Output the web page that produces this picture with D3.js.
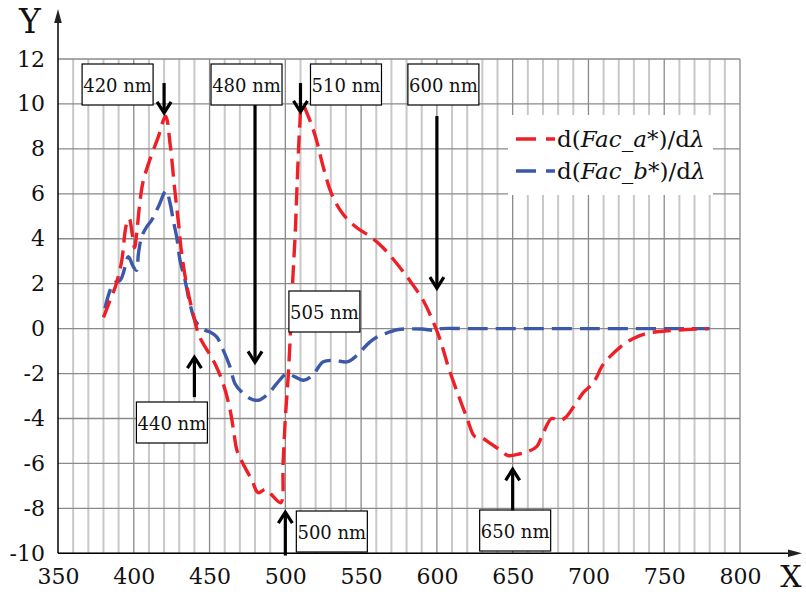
<!DOCTYPE html>
<html>
<head>
<meta charset="utf-8">
<script src="https://cdn.jsdelivr.net/npm/d3@7"></script>
<style>
  html, body { margin: 0; padding: 0; background: #fff; }
  svg { display: block; }
  text { font-family: "DejaVu Serif", "Liberation Serif", serif; }
</style>
</head>
<body>
<svg id="chart" width="806" height="594"></svg>
<script>
// ---- data ----
const xTicks = [350, 400, 450, 500, 550, 600, 650, 700, 750, 800];
const yTicks = [-10, -8, -6, -4, -2, 0, 2, 4, 6, 8, 10, 12];

const aWavelength = [380, 384, 388, 392, 395, 397, 399, 400.5, 402, 404, 406, 410, 416, 421, 424, 427, 429.5, 431.5, 435, 439, 443, 447, 453.5, 459, 463.5, 466, 468, 472, 478, 482, 487, 491, 497, 498.5, 500, 502, 503.5, 505, 506.5, 508, 509.5, 511, 516, 520.5, 525, 530.5, 538, 547, 556, 564.5, 573.5, 582, 591, 600, 604, 607.5, 613, 619.7, 625, 629.5, 635, 641.6, 647, 655, 659, 665.8, 670, 675.7, 681, 685, 691, 696.6, 702, 705.5, 708.7, 714, 721, 729.6, 738, 751.6, 765, 779];
const aValues = [0.5, 1.2, 1.9, 3.0, 4.6, 4.9, 4.2, 3.6, 4.3, 5.6, 6.5, 7.4, 8.5, 9.45, 8.2, 6.2, 4.7, 3.4, 1.9, 0.7, -0.3, -0.8, -1.55, -2.45, -3.6, -4.6, -5.4, -6.0, -6.75, -7.3, -7.15, -7.4, -7.75, -6.0, -4.0, -2.0, 0.0, 2.3, 4.2, 6.8, 9.0, 10.0, 9.3, 8.4, 7.2, 6.0, 5.1, 4.5, 4.1, 3.6, 2.9, 2.15, 1.25, -0.1, -0.9, -1.7, -2.75, -3.95, -4.8, -4.85, -5.1, -5.4, -5.65, -5.57, -5.5, -5.25, -4.67, -4.0, -4.1, -3.95, -3.4, -2.85, -2.5, -2.15, -1.7, -1.26, -0.82, -0.44, -0.22, -0.1, -0.04, 0];

const bWavelength = [381, 386.5, 391, 393, 396.4, 399.7, 401.9, 403, 405.2, 408.5, 411.8, 416.2, 421.3, 424, 426, 428.3, 430.5, 433.8, 437, 440.4, 443.7, 448, 450.3, 454.7, 459, 463.5, 466.8, 471.2, 476.7, 482.2, 488.8, 494.3, 501, 506.4, 512, 518.4, 522, 525, 531.6, 540.5, 544.8, 550.4, 555.9, 562.5, 569, 574.5, 590, 598, 603, 620, 700, 780];
const bValues = [0.9, 2.0, 2.15, 2.45, 3.2, 2.75, 2.6, 3.3, 4.08, 4.53, 4.83, 5.42, 6.13, 5.57, 4.83, 4.08, 3.05, 2.16, 1.12, 0.37, 0.1, -0.1, -0.15, -0.37, -0.96, -1.7, -2.45, -2.82, -3.11, -3.19, -2.89, -2.45, -2.0, -2.15, -2.3, -2.05, -1.7, -1.48, -1.41, -1.48, -1.33, -0.96, -0.59, -0.3, -0.15, -0.04, -0.02, -0.07, 0.0, 0, 0, 0];

const annotationLabels = ["420 nm", "480 nm", "510 nm", "600 nm", "505 nm", "440 nm", "500 nm", "650 nm"];
const annotationNm = [420, 480, 510, 600, 505, 440, 500, 650];

// ---- layout ----
const svg = d3.select("#chart");
const x = d3.scaleLinear().domain([350, 800]).range([58, 740]);
const y = d3.scaleLinear().domain([-10, 12]).range([553.3, 59]);
const RED = "#ee1f26", BLUE = "#3c58a9";

// grid
const g = svg.append("g");
d3.range(360, 801, 10).forEach(v => {
  const major = v % 50 === 0;
  g.append("line")
    .attr("x1", x(v)).attr("x2", x(v)).attr("y1", y(12)).attr("y2", y(-10))
    .attr("stroke", major ? "#8a8a8a" : "#c8c8c8")
    .attr("stroke-width", major ? 1.3 : 2);
});
yTicks.forEach(v => {
  g.append("line")
    .attr("x1", x(350)).attr("x2", x(800)).attr("y1", y(v)).attr("y2", y(v))
    .attr("stroke", "#8a8a8a").attr("stroke-width", 1.3);
});

// axes with arrows
svg.append("line").attr("x1", x(350)).attr("x2", x(350)).attr("y1", y(-10)).attr("y2", 20)
  .attr("stroke", "#000").attr("stroke-width", 1.5);
svg.append("path").attr("d", `M${x(350)},9 L${x(350)-3.8},23 L${x(350)+3.8},23 Z`).attr("fill", "#222");
svg.append("line").attr("x1", x(350)).attr("x2", 792).attr("y1", y(-10)).attr("y2", y(-10))
  .attr("stroke", "#000").attr("stroke-width", 1.5);
svg.append("path").attr("d", `M802,${y(-10)} L788,${y(-10)-3.8} L788,${y(-10)+3.8} Z`).attr("fill", "#222");

// tick labels via axes (plain hyphen for negatives, as in the reference)
const fmt = d => String(d);
const xAxis = d3.axisBottom(x).tickValues(xTicks).tickSize(0).tickPadding(15).tickFormat(fmt);
const xa = svg.append("g").attr("transform", `translate(0,${y(-10)})`).call(xAxis);
xa.select(".domain").remove();
xa.selectAll("text").attr("font-family", "DejaVu Serif").attr("font-size", 22).attr("fill", "#111");

const yAxis = d3.axisLeft(y).tickValues(yTicks).tickSize(0).tickPadding(13).tickFormat(fmt);
const ya = svg.append("g").attr("transform", `translate(${x(350)},0)`).call(yAxis);
ya.select(".domain").remove();
ya.selectAll("text").attr("font-family", "DejaVu Serif").attr("font-size", 22).attr("fill", "#111");

svg.append("text").attr("x", 30).attr("y", 33).attr("text-anchor", "middle")
  .attr("font-size", 33).attr("fill", "#111").text("Y");
svg.append("text").attr("x", 791).attr("y", 587).attr("text-anchor", "middle")
  .attr("font-size", 30).attr("fill", "#111").text("X");

// series
const line = d3.line().x(d => x(d[0])).y(d => y(d[1])).curve(d3.curveCatmullRom.alpha(0.5));
const aData = aWavelength.map((w, i) => [w, aValues[i]]);
const bData = bWavelength.map((w, i) => [w, bValues[i]]);
svg.append("path").datum(bData).attr("d", line).attr("fill", "none")
  .attr("stroke", BLUE).attr("stroke-width", 3.4).attr("stroke-dasharray", "20,8");
svg.append("path").datum(aData).attr("d", line).attr("fill", "none")
  .attr("stroke", RED).attr("stroke-width", 3.4).attr("stroke-dasharray", "18,8");

// annotations: box placement (pixel offsets relative to arrow position) and arrow extents in data units
const annLayout = {
  "420 nm": { bx: -82, by: 64, from: 10.93, to: 9.6 },
  "480 nm": { bx: -44, by: 64, from: 9.95, to: -1.5 },
  "510 nm": { bx: 10, by: 64, from: 10.93, to: 9.65 },
  "600 nm": { bx: -29, by: 64, from: 9.46, to: 1.8 },
  "505 nm": { bx: -4, by: 291, from: null },
  "440 nm": { bx: -58, by: 402, from: -3.05, to: -1.27 },
  "500 nm": { bx: 11, by: 511, from: -10.1, to: -8.17 },
  "650 nm": { bx: -33, by: 510, from: -8.09, to: -6.26 }
};
const boxW = 71, boxH = 41;
annotationLabels.forEach((lab, i) => {
  const L = annLayout[lab];
  const ax = x(annotationNm[i]);
  const bx = ax + L.bx;
  svg.append("rect").attr("x", bx).attr("y", L.by).attr("width", boxW).attr("height", boxH)
    .attr("fill", "#fff").attr("stroke", "#000").attr("stroke-width", 1.2);
  svg.append("text").attr("x", bx + boxW / 2).attr("y", L.by + boxH / 2 + 7)
    .attr("text-anchor", "middle").attr("font-size", 18).attr("fill", "#111").text(lab);
  if (L.from !== null) {
    const y1 = y(L.from), y2 = y(L.to);
    const dir = y2 > y1 ? 1 : -1;
    svg.append("line").attr("x1", ax).attr("x2", ax).attr("y1", y1).attr("y2", y2 - dir * 1.5)
      .attr("stroke", "#000").attr("stroke-width", 3.2);
    svg.append("path")
      .attr("d", `M${ax - 7},${y2 - dir * 11} L${ax},${y2} L${ax + 7},${y2 - dir * 11}`)
      .attr("fill", "none").attr("stroke", "#000").attr("stroke-width", 3.2)
      .attr("stroke-linejoin", "miter");
  }
});

// legend
const leg = svg.append("g");
leg.append("rect").attr("x", 508).attr("y", 115).attr("width", 205).attr("height", 80).attr("fill", "#fff");
const legendItems = [
  { color: RED, letter: "a", yy: 139 },
  { color: BLUE, letter: "b", yy: 171 }
];
legendItems.forEach(it => {
  leg.append("line").attr("x1", 516).attr("x2", 555).attr("y1", it.yy).attr("y2", it.yy)
    .attr("stroke", it.color).attr("stroke-width", 3.4).attr("stroke-dasharray", "20,10");
  const t = leg.append("text").attr("x", 557).attr("y", it.yy + 8).attr("font-size", 23).attr("fill", "#111");
  t.append("tspan").text("d(");
  t.append("tspan").attr("font-style", "italic").text("Fac_" + it.letter);
  t.append("tspan").text("*)/d");
  t.append("tspan").attr("font-style", "italic").text("λ");
});
</script>
</body>
</html>
